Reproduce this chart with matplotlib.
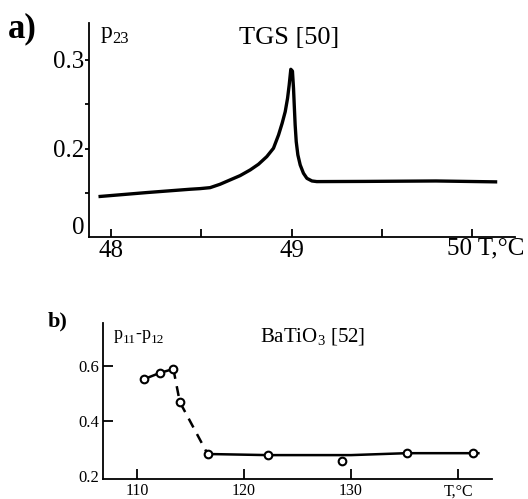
import matplotlib.pyplot as plt
from matplotlib.transforms import offset_copy

plt.rcParams['font.family'] = ['Liberation Serif', 'DejaVu Serif']
plt.rcParams['mathtext.fontset'] = 'custom'
plt.rcParams['mathtext.rm'] = 'Liberation Serif'

# (a) TGS, p23 vs temperature
tgs_t = [47.94, 48.2, 48.438, 48.493, 48.549, 48.604, 48.66, 48.715, 48.771,
         48.817, 48.863, 48.90, 48.928, 48.948, 48.965, 48.978, 48.987,
         48.996, 49.005, 49.011, 49.015, 49.020, 49.026, 49.035, 49.048,
         49.066, 49.085, 49.113, 49.14, 49.4, 49.8, 50.13]
tgs_p = [0.1466, 0.151, 0.1547, 0.1554, 0.1565, 0.1603, 0.1652, 0.170, 0.1764,
         0.1828, 0.1914, 0.2008, 0.2157, 0.2289, 0.2419, 0.257, 0.2719,
         0.2895, 0.2875, 0.268, 0.2494, 0.227, 0.2082, 0.1933, 0.182,
         0.1727, 0.167, 0.164, 0.1633, 0.1635, 0.164, 0.163]

# (b) BaTiO3, p11 - p12 vs temperature
bt_t = [110.65, 112.15, 113.4, 114.0, 116.6, 122.2, 129.2, 135.2, 141.4]
bt_p = [0.552, 0.575, 0.589, 0.469, 0.28, 0.276, 0.255, 0.283, 0.283]
# connecting curve: solid below the transition, dashed through it, solid above
low_t, low_p = [110.65, 112.15, 113.4], [0.552, 0.575, 0.589]
mid_t, mid_p = [113.4, 114.0, 116.6], [0.589, 0.469, 0.28]
high_t = [116.6, 122.2, 130.0, 135.2, 141.9]
high_p = [0.28, 0.276, 0.276, 0.283, 0.283]

fig = plt.figure(figsize=(5.28, 4.99), dpi=100)
renderer = fig.canvas.get_renderer()


def subscript_label(ax, x, y, parts, size, subsize, drop):
    """Write text pieces left to right; pieces flagged True sit lowered as subscripts."""
    trans = ax.transAxes
    dx = 0.0
    for txt, is_sub in parts:
        t = ax.text(x, y, txt, ha='left', va='baseline',
                    fontsize=subsize if is_sub else size,
                    transform=offset_copy(trans, fig=fig, x=dx, y=-drop if is_sub else 0,
                                          units='points'))
        w = t.get_window_extent(renderer).width * 72.0 / fig.dpi
        dx += w


# ---- panel a ----
ax1 = fig.add_axes([0.1695, 0.525, 0.806, 0.429])
ax1.plot(tgs_t, tgs_p, color='black', lw=2.4, solid_joinstyle='round')
ax1.set_xlim(47.881, 50.238)
ax1.set_ylim(0.101, 0.3416)
for s in ['top', 'right']:
    ax1.spines[s].set_visible(False)
for s in ['left', 'bottom']:
    ax1.spines[s].set_linewidth(1.3)
ax1.set_xticks([48, 48.5, 49, 49.5, 50])
ax1.set_xticklabels(['48', '', '49', '', ''])
ax1.set_yticks([0.15, 0.2, 0.25, 0.3])
ax1.set_yticklabels(['', '0.2', '', '0.3'])
ax1.tick_params(axis='x', direction='in', length=6, width=1.3, pad=2, labelsize=18)
ax1.tick_params(axis='y', direction='out', length=3, width=1.3, pad=1, labelsize=18)
ax1.text(49.86, 0.101, '50 T,°C', ha='left', va='top', fontsize=18,
         transform=ax1.transData)
ax1.text(-0.012, 0.04, '0', ha='right', va='center', fontsize=18,
         transform=ax1.transAxes)
subscript_label(ax1, 0.026, 0.93, [('p', False), ('23', True)], 17, 12, 4)
ax1.text(0.47, 0.93, 'TGS [50]', ha='center', va='center', fontsize=19,
         transform=ax1.transAxes)
fig.text(0.014, 0.943, 'a)', ha='left', va='center', fontsize=25, fontweight='bold')

# ---- panel b ----
ax2 = fig.add_axes([0.195, 0.040, 0.737, 0.3126])
ax2.plot(low_t, low_p, color='black', lw=1.8)
ax2.plot(mid_t, mid_p, color='black', lw=1.8, ls=(0, (4, 3)))
ax2.plot(high_t, high_p, color='black', lw=1.8)
ax2.plot(bt_t, bt_p, ls='none', marker='o', ms=5.5, mfc='white', mec='black', mew=1.5)
ax2.set_xlim(106.82, 143.18)
ax2.set_ylim(0.189, 0.756)
for s in ['top', 'right']:
    ax2.spines[s].set_visible(False)
for s in ['left', 'bottom']:
    ax2.spines[s].set_linewidth(1.3)
ax2.set_xticks([110, 120, 130, 140])
ax2.set_xticklabels(['110', '120', '130', 'T,°C'])
ax2.set_yticks([0.2, 0.4, 0.6])
ax2.set_yticklabels(['0.2', '0.4', '0.6'])
ax2.yaxis.get_major_ticks()[0].tick1line.set_visible(False)
ax2.tick_params(axis='x', direction='in', length=7, width=1.3, pad=3, labelsize=11.5)
ax2.tick_params(axis='y', direction='in', length=7, width=1.3, pad=3, labelsize=12)
subscript_label(ax2, 0.027, 0.9, [('p', False), ('11', True), ('-', False),
                                  ('p', False), ('12', True)], 13, 9.5, 3)
ax2.text(0.54, 0.91, r'BaTiO$_{\mathregular{3}}$ [52]', ha='center', va='center',
         fontsize=15, transform=ax2.transAxes)
fig.text(0.09, 0.355, 'b)', ha='left', va='center', fontsize=16, fontweight='bold')

fig.savefig('out.png', dpi=100)
